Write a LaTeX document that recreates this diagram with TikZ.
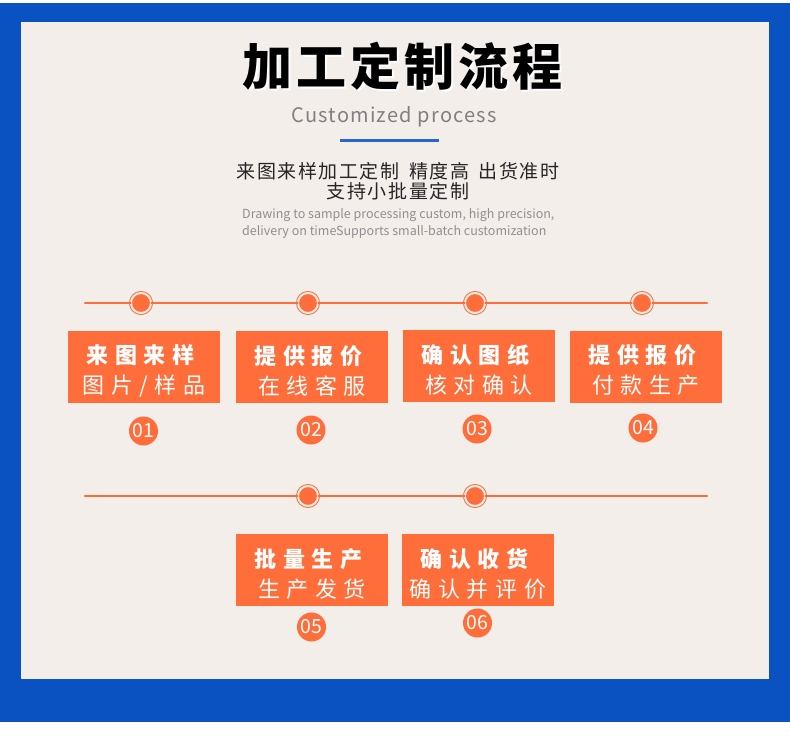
\documentclass[tikz,border=0pt]{standalone}
\usepackage{fontspec}
\setmainfont{Noto Sans CJK SC}
\newfontfamily\titlefont[LetterSpace=8]{Noto Sans CJK SC}
\newfontfamily\stepfont[LetterSpace=30]{Noto Sans CJK SC}
\newfontfamily\introfont[LetterSpace=8]{Noto Sans CJK SC}
\newfontfamily\enfont[LetterSpace=6]{Noto Sans CJK SC}

\definecolor{brandblue}{HTML}{0A52C1}
\definecolor{panelbg}{HTML}{F4EEEB}
\definecolor{steporange}{HTML}{FF6D3B}
\definecolor{linkblue}{HTML}{2766CC}
\definecolor{subgray}{HTML}{808080}
\definecolor{engray}{HTML}{8F8F8F}

% two lines of a step box, set a little low in the box
\newcommand\steplines[2]{\raisebox{-3.5pt}[\height][\depth]{\textbf{#1}}\\\raisebox{-3.5pt}[\height][\depth]{#2}}

\tikzset{
  flowline/.style={draw=steporange, line width=2.5pt},
  stepdot/.style={circle, fill=steporange, draw=steporange, line width=1pt,
    double=panelbg, double distance=2pt, minimum size=20pt, inner sep=0pt},
  stepbox/.style={fill=steporange, minimum width=152pt, minimum height=72pt,
    inner sep=0pt, text=white, align=center,
    font=\stepfont\fontsize{22}{30}\selectfont},
  badge/.style={circle, fill=steporange, minimum size=29pt, inner sep=0pt,
    text=white, font=\fontsize{19.5}{19.5}\selectfont}
}

\begin{document}
\begin{tikzpicture}[x=1pt, y=-1pt, line cap=round, line join=round]
\useasboundingbox (0,0) rectangle (790,744);

% Frame
\fill[brandblue] (0,3) rectangle (790,722);
\fill[panelbg] (21,22) rectangle (769,679);

% Heading
\node[font=\titlefont\bfseries\fontsize{50}{50}\selectfont, text=white] (titleglow) at (404,68) {加工定制流程};
\node[font=\titlefont\bfseries\fontsize{50}{50}\selectfont, text=black] (title) at (402.5,66.5) {加工定制流程};
\node[font=\enfont\fontsize{20}{20}\selectfont, text=subgray] (subtitle) at (394,117) {Customized process};
\draw[linkblue, line width=3pt, line cap=butt] (340,140) -- (439,140);

% Intro text
\node[font=\introfont\fontsize{19}{20}\selectfont, text=black!85, align=center] (intro) at (398,181)
  {来图来样加工定制\hspace{9.5pt}精度高\hspace{9.5pt}出货准时\\支持小批量定制};
\node[font=\fontsize{12.5}{17.5}\selectfont, text=engray, align=left, anchor=north west, inner sep=0pt] (introen) at (242,208)
  {Drawing to sample processing custom, high precision,\\delivery on timeSupports small-batch customization};

% First row of steps
\coordinate (a0) at (85,303);
\coordinate (a5) at (707,303);
\node[stepdot] (a1) at (141,303) {};
\node[stepdot] (a2) at (308,303) {};
\node[stepdot] (a3) at (475,303) {};
\node[stepdot] (a4) at (642,303) {};
\draw[flowline] (a0) -- (a1) -- (a2) -- (a3) -- (a4) -- (a5);

\node[stepbox] (s1) at (144,367) {\steplines{来图来样}{图片/样品}};
\node[stepbox] (s2) at (312,367) {\steplines{提供报价}{在线客服}};
\node[stepbox] (s3) at (479,366) {\steplines{确认图纸}{核对确认}};
\node[stepbox] (s4) at (646,367) {\steplines{提供报价}{付款生产}};

\node[badge] (n1) at (143.5,431) {01};
\node[badge] (n2) at (311,430) {02};
\node[badge] (n3) at (477,429) {03};
\node[badge] (n4) at (643,428) {04};

% Second row of steps
\coordinate (b0) at (85,496);
\coordinate (b3) at (707,496);
\node[stepdot] (b1) at (308,496) {};
\node[stepdot] (b2) at (475,496) {};
\draw[flowline] (b0) -- (b1) -- (b2) -- (b3);

\node[stepbox] (s5) at (312,570) {\steplines{批量生产}{生产发货}};
\node[stepbox] (s6) at (478,570) {\steplines{确认收货}{确认并评价}};

\node[badge] (n5) at (311.5,627) {05};
\node[badge] (n6) at (477.5,623) {06};

\end{tikzpicture}
\end{document}
